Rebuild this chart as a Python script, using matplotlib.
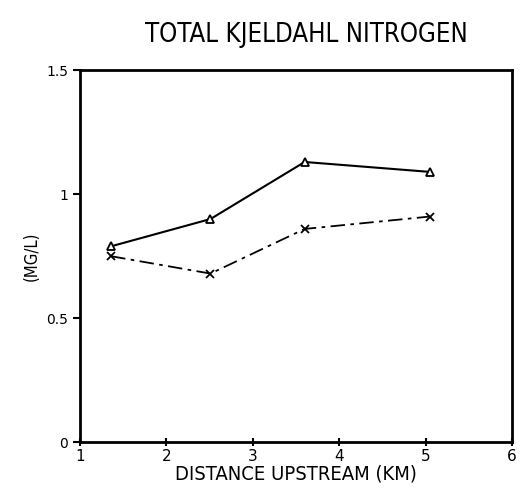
import matplotlib
matplotlib.use("Agg")
import matplotlib.pyplot as plt

distance = [1.36, 2.51, 3.60, 5.05]
tkn_upper = [0.79, 0.90, 1.13, 1.09]   # triangles, solid
tkn_lower = [0.75, 0.68, 0.86, 0.91]   # crosses, dash-dot

plt.rcParams['font.family'] = ['DejaVu Sans']

fig = plt.figure(figsize=(5.23, 4.98), dpi=100)
ax = fig.add_axes([0.153, 0.112, 0.826, 0.747])

ax.plot(distance, tkn_upper, color='black', lw=1.5, marker='^', ms=6,
        mfc='white', mec='black', mew=1.3)
ax.plot(distance, tkn_lower, color='black', lw=1.3, marker='x', ms=6,
        mew=1.3, dashes=(8, 3, 2, 3))

ax.set_xlim(1, 6)
ax.set_ylim(0, 1.5)
ax.set_xticks([1, 2, 3, 4, 5, 6])
ax.set_yticks([0, 0.5, 1, 1.5])
ax.set_yticklabels(['0', '0.5', '1', '1.5'])
for s in ax.spines.values():
    s.set_linewidth(2)
ax.tick_params(axis='x', direction='inout', length=6, width=1.5, labelsize=11, pad=2)
ax.tick_params(axis='y', direction='out', length=5, width=1.5, labelsize=10)

ax.set_xlabel('DISTANCE UPSTREAM (KM)', fontsize=14.5, fontstretch='condensed', labelpad=0)
ax.set_ylabel('(MG/L)', fontsize=12, fontstretch='condensed')
fig.text(0.585, 0.93, 'TOTAL KJELDAHL NITROGEN', ha='center', va='center',
         fontsize=18.5, fontstretch='condensed')

fig.savefig('out.png', dpi=100)
